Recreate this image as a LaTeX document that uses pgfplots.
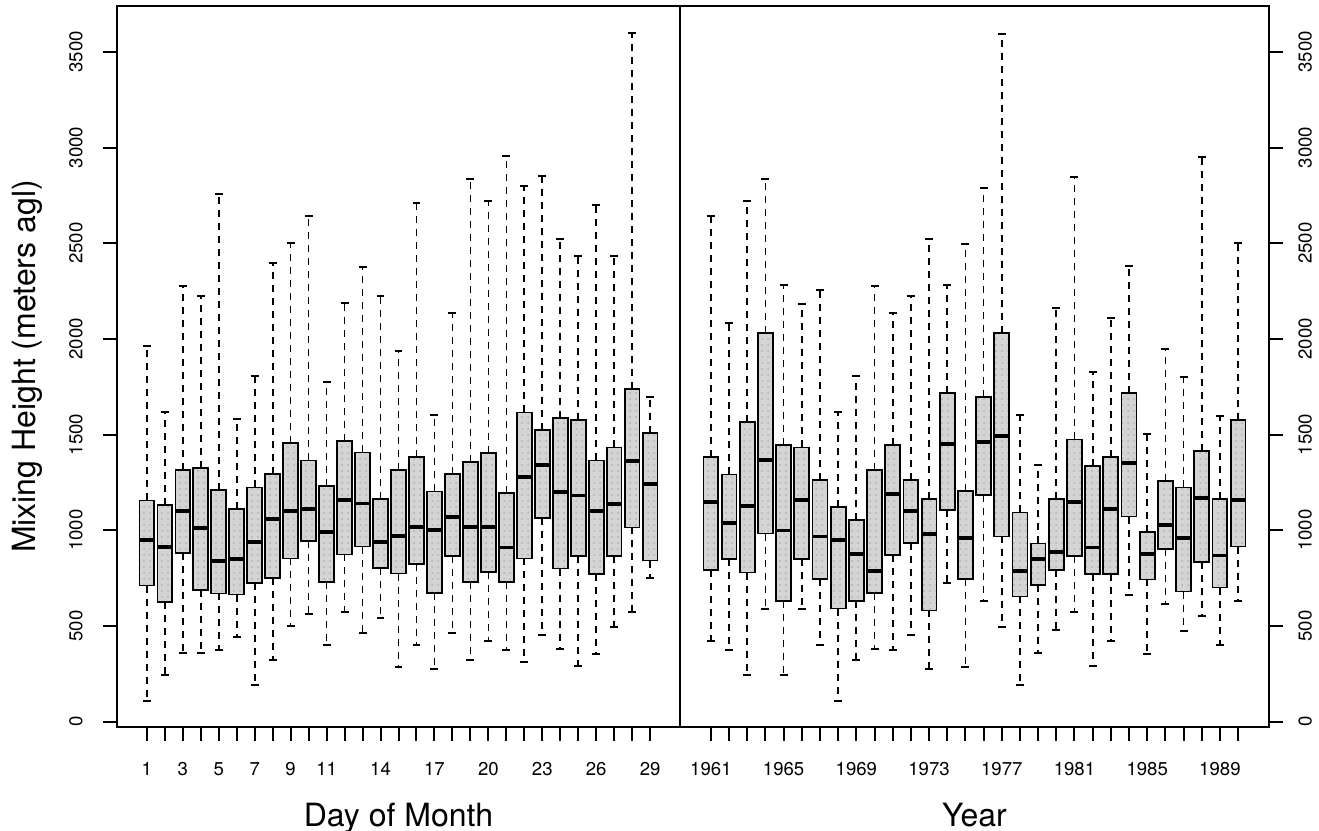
\documentclass[border=0pt]{standalone}
\usepackage{fontspec}
\setmainfont{TeX Gyre Heros}
\usepackage{pgfplots}
\usepackage{pgfplotstable}
\usetikzlibrary{patterns}
\pgfplotsset{compat=1.18}

% mixing height by day of month: lower whisker, quartiles, median, upper whisker
\pgfplotstableread{
day lw  lq   med  uq   uw
1   110 711  949  1156 1961
2   243 624  912  1134 1616
3   361 882  1100 1313 2279
4   361 690  1010 1324 2227
5   375 670  839  1212 2760
6   441 664  849  1113 1583
7   192 724  938  1224 1805
8   323 752  1060 1294 2398
9   502 853  1100 1456 2499
10  563 944  1113 1365 2645
11  401 731  991  1233 1773
12  574 874  1160 1465 2189
13  464 915  1140 1407 2377
14  544 802  940  1165 2227
15  285 774  970  1313 1939
16  401 823  1019 1383 2712
17  274 673  1003 1203 1601
18  464 865  1071 1296 2136
19  323 731  1019 1355 2834
20  424 781  1019 1404 2722
21  373 731  910  1193 2955
22  312 853  1280 1616 2799
23  452 1066 1343 1526 2851
24  382 800  1200 1585 2520
25  293 865  1182 1575 2432
26  352 773  1100 1365 2699
27  492 865  1139 1433 2432
28  574 1015 1362 1739 3601
29  753 842  1240 1507 1697
}\daydata

% by year
\pgfplotstableread{
year lw  lq   med  uq   uw
1961 424 792  1149 1383 2642
1962 375 851  1038 1292 2084
1963 243 779  1128 1564 2720
1964 591 983  1369 2032 2834
1965 243 631  999  1446 2284
1966 591 851  1160 1433 2185
1967 401 745  968  1264 2255
1968 110 591  949  1123 1616
1969 323 631  877  1055 1805
1970 382 672  787  1313 2279
1971 373 872  1189 1446 2136
1972 452 933  1099 1264 2227
1973 274 581  980  1165 2520
1974 724 1107 1453 1718 2284
1975 283 745  961  1205 2498
1976 633 1186 1462 1697 2790
1977 492 968  1491 2032 3596
1978 192 654  787  1093 1604
1979 361 713  849  931  1341
1980 481 794  888  1165 2162
1981 574 865  1149 1475 2846
1982 293 773  910  1334 1828
1983 424 773  1113 1383 2107
1984 663 1072 1352 1718 2380
1985 352 743  877  992  1505
1986 614 903  1029 1258 1948
1987 474 680  959  1224 1800
1988 553 834  1169 1416 2952
1989 403 701  868  1165 1595
1990 633 915  1160 1577 2502
}\yeardata

\pgfplotsset{
  rwhisk/.style={black, line width=0.85pt, dash pattern=on 3.5pt off 3pt},
  rcap/.style={black, line width=1pt},
  rboxfill/.style={draw=black, fill=black!17, line width=0.9pt, line cap=rect,
    postaction={pattern=dots, pattern color=black!30}},
  rmed/.style={black, line width=1.9pt},
  rpanel/.style={
    scale only axis, height=360.5pt, anchor=south west,
    ymin=-28, ymax=3740,
    ytick={0,500,...,3500},
    yticklabels={0,500,1000,1500,2000,2500,3000,3500},
    tick align=outside, major tick length=7pt,
    tick style={black, line width=1pt},
    axis line style={line width=1.1pt},
    ticklabel style={font=\fontsize{9.3}{10}\selectfont, inner sep=0pt},
    xticklabel style={anchor=north, inner ysep=10.5pt},
    label style={font=\fontsize{16}{19}\selectfont},
    xlabel style={at={(axis description cs:0.5,0)}, anchor=base, yshift=-49.5pt},
  },
}

% one box (whiskers, caps, box, median) from row #2 of table #1
\newcommand\rowbox[2]{%
  \pgfplotstablegetelem{#2}{lw}\of#1\let\vlw\pgfplotsretval
  \pgfplotstablegetelem{#2}{lq}\of#1\let\vlq\pgfplotsretval
  \pgfplotstablegetelem{#2}{med}\of#1\let\vmed\pgfplotsretval
  \pgfplotstablegetelem{#2}{uq}\of#1\let\vuq\pgfplotsretval
  \pgfplotstablegetelem{#2}{uw}\of#1\let\vuw\pgfplotsretval
  \pgfmathsetmacro\bxc{#2+1}%
  \pgfmathsetmacro\bxl{#2+1-0.41}%
  \pgfmathsetmacro\bxr{#2+1+0.41}%
  \pgfmathsetmacro\bcl{#2+1-0.22}%
  \pgfmathsetmacro\bcr{#2+1+0.22}%
  \edef\doplot{%
    \noexpand\addplot[rwhisk] coordinates {(\bxc,\vuq) (\bxc,\vuw)};
    \noexpand\addplot[rwhisk] coordinates {(\bxc,\vlq) (\bxc,\vlw)};
    \noexpand\addplot[rcap] coordinates {(\bcl,\vuw) (\bcr,\vuw)};
    \noexpand\addplot[rcap] coordinates {(\bcl,\vlw) (\bcr,\vlw)};
    \noexpand\addplot[rboxfill] coordinates {(\bxl,\vlq) (\bxr,\vlq) (\bxr,\vuq) (\bxl,\vuq) (\bxl,\vlq)};
    \noexpand\addplot[rmed] coordinates {(\bxl,\vmed) (\bxr,\vmed)};
  }%
  \doplot
}

\begin{document}
\begin{tikzpicture}
\useasboundingbox (0pt,0pt) rectangle (659.5pt,415.5pt);

\begin{axis}[rpanel,
  at={(58.5pt,52pt)}, width=281.5pt,
  xmin=-0.66, xmax=30.66,
  xtick={1,...,29},
  xticklabels={1,,3,,5,,7,,9,,11,,,14,,,17,,,20,,,23,,,26,,,29},
  xtick pos=left, ytick pos=left,
  yticklabel style={rotate=90, anchor=south, inner ysep=10pt},
  xlabel={Day of Month},
  ylabel={Mixing Height (meters agl)},
  ylabel style={at={(axis description cs:-0.1456,0.5)}, anchor=base},
]
\pgfplotsinvokeforeach{0,...,28}{\rowbox{\daydata}{#1}}
\end{axis}

\begin{axis}[rpanel,
  at={(340pt,52pt)}, width=294.5pt,
  xmin=-0.7, xmax=31.7,
  xtick={1,...,30},
  xticklabels={1961,,,,1965,,,,1969,,,,1973,,,,1977,,,,1981,,,,1985,,,,1989,},
  xtick pos=left, ytick pos=right, yticklabel pos=right,
  yticklabel style={rotate=90, anchor=north, inner ysep=7.5pt},
  xlabel={Year},
]
\pgfplotsinvokeforeach{0,...,29}{\rowbox{\yeardata}{#1}}
\end{axis}
\end{tikzpicture}
\end{document}
